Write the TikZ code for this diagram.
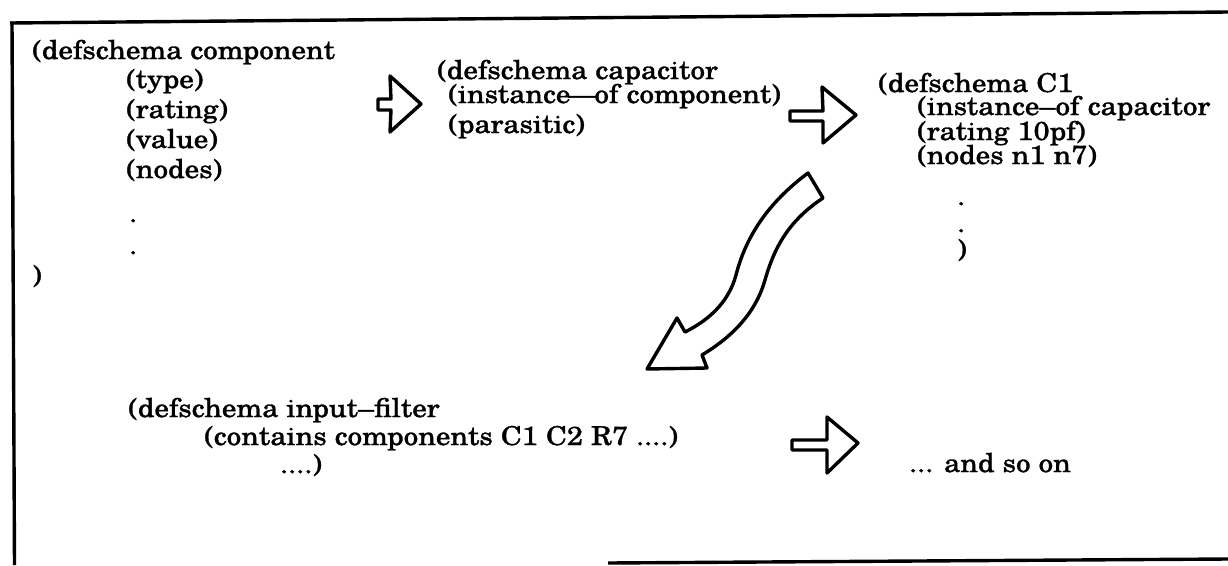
\documentclass[tikz,border=0pt]{standalone}
\usepackage{fontspec}
\setmainfont{TeX Gyre Schola}[FakeStretch=1.115,FakeBold=1.2]
\begin{document}
\begin{tikzpicture}[x=1pt,y=-1pt,
  txt/.style={anchor=base west, inner sep=0pt, font=\fontsize{26pt}{30pt}\selectfont},
  frameline/.style={line width=3.4pt},
  hollow/.style={draw, line width=3.4pt, fill=white, line join=round}]
\useasboundingbox (0,0) rectangle (1228,565);
% frame
\coordinate (tl) at (10,23);
\coordinate (tr) at (1228,12);
\coordinate (bl) at (14.5,565);
\coordinate (bm) at (608,563);
\coordinate (br) at (1228,559);
\draw[frameline] (tl) -- (tr);
\draw[frameline] (12,21.5) -- (bl);
\draw[frameline] (bm) -- (br);
% block 1
\node[txt] (c0) at (32,59) {(defschema component};
\node[txt] (c1) at (126,88) {(type)};
\node[txt] (c2) at (126,118) {(rating)};
\node[txt] (c3) at (126,148) {(value)};
\node[txt] (c4) at (126,178) {(nodes)};
\node[txt] (c5) at (129,222) {.};
\node[txt] (c6) at (129,254) {.};
\node[txt] (c7) at (32,284) {)};
% block 2
\node[txt] (p0) at (437,79) {(defschema capacitor};
\node[txt] (p1) at (448,103) {(instance\kern-2.5pt---\kern-2.5pt of component)};
\node[txt] (p2) at (448,133) {(parasitic)};
% block 3
\node[txt] (k0) at (878,92) {(defschema C1};
\node[txt] (k1) at (917,115) {(instance--of capacitor};
\node[txt] (k2) at (917,140) {(rating 10pf)};
\node[txt] (k3) at (917,164) {(nodes n1 n7)};
\node[txt] (k4) at (957,205) {.};
\node[txt] (k5) at (957,232) {.};
\node[txt] (k6) at (957,258) {)};
% block 4
\node[txt] (f0) at (128,417) {(defschema input--filter};
\node[txt] (f1) at (204,445) {(contains components C1 C2 R7 ....)};
\node[txt] (f2) at (280,473) {....)};
\node[txt] (so) at (909,472) {... and so on};
% straight hollow arrows
\coordinate (a1) at (421,104);
\coordinate (a2) at (856,115);
\coordinate (a3) at (858,443);
\draw[hollow, shift={(a1)}] (-43,-5) -- (-30,-5) -- (-31,-28) -- (0,0) -- (-31,28) -- (-30,6) -- (-43,6) -- cycle;
\draw[hollow, shift={(a2)}] (-66,-4) -- (-33,-4) -- (-34,-28) -- (0,0) -- (-33,28) -- (-33,6) -- (-66,6) -- cycle;
\draw[hollow, shift={(a3)}] (-66,-3) -- (-31,-3) -- (-31,-26) -- (0,0) -- (-31,30) -- (-31,7) -- (-66,7) -- cycle;
% curved hollow arrow
\coordinate (tailA) at (808,173);
\coordinate (tailB) at (823,198);
\coordinate (notchU) at (685,332);
\coordinate (notchL) at (702,355);
\draw[hollow] (tailA) .. controls (765,205) and (745,240) .. (736,275)
  .. controls (728,305) and (705,322) .. (notchU)
  -- (677,318) -- (647,369) -- (707,368) -- (notchL)
  .. controls (730,338) and (755,315) .. (765,280)
  .. controls (775,245) and (790,220) .. (tailB) -- cycle;
\end{tikzpicture}
\end{document}
